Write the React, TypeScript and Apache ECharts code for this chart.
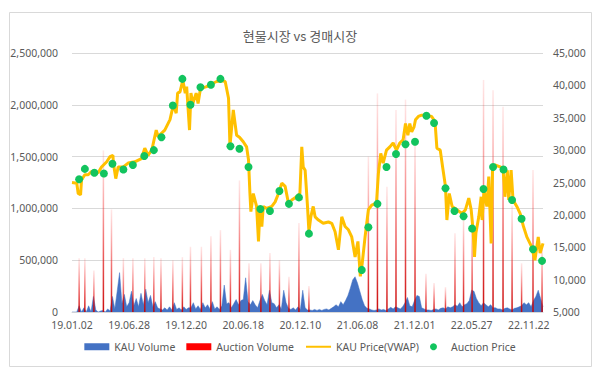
import React, { useEffect, useRef } from 'react';
import * as echarts from 'echarts';

// x positions are trading-day indexes counted from 19.01.02
const tickLabels = ['19.01.02', '19.06.28', '19.12.20', '20.06.18', '20.12.10', '21.06.08', '21.12.01', '22.05.27', '22.11.22'];
const tickStep = 120;
const dayMax = 990;

// KAU daily volume, sampled every 5 trading days (thousands)
const kauVolumeStep = 5;
const kauVolumeK = [
  0, 0, 0, 60, 0, 40, 0, 60, 0, 150,
  20, 0, 10, 15, 0, 30, 10, 150, 30, 200,
  380, 80, 170, 50, 90, 200, 60, 130, 50, 180,
  70, 220, 90, 160, 50, 100, 40, 30, 20, 40,
  20, 50, 20, 90, 25, 40, 20, 50, 25, 40,
  40, 90, 30, 60, 25, 90, 40, 70, 30, 100,
  30, 50, 25, 60, 260, 80, 90, 40, 80, 120,
  70, 110, 120, 330, 100, 70, 110, 70, 40, 110,
  170, 110, 70, 210, 90, 80, 40, 70, 30, 210,
  90, 35, 25, 40, 20, 50, 25, 210, 40, 20,
  20, 15, 25, 15, 25, 15, 25, 30, 20, 35,
  50, 70, 50, 100, 70, 110, 160, 230, 310, 340,
  280, 200, 120, 60, 35, 30, 20, 15, 20, 30,
  20, 25, 15, 30, 45, 30, 50, 40, 30, 50,
  90, 140, 60, 50, 110, 160, 150, 40, 30, 20,
  20, 15, 25, 30, 20, 35, 40, 30, 50, 40,
  50, 70, 55, 90, 50, 70, 80, 110, 210, 200,
  130, 90, 60, 90, 70, 50, 70, 40, 40, 30,
  30, 20, 35, 40, 30, 20, 35, 40, 50, 60,
  90, 70, 90, 50, 110, 150, 210, 130, 50,
];

// Auction volume spikes (thousands)
const auctionVolumeDays = [
  15, 27, 46, 66, 83, 108, 128, 153, 172, 187,
  212, 232, 249, 272, 292, 312, 333, 352, 372, 397,
  416, 436, 456, 477, 498, 623, 642, 662, 681, 701,
  721, 744, 761, 785, 805, 823, 841, 865, 885, 906,
  925, 945, 969, 988,
];
const auctionVolumeK = [
  520, 520, 400, 1560, 990, 520, 520, 520, 530, 520,
  500, 530, 630, 630, 730, 790, 600, 1270, 470, 470,
  570, 500, 340, 860, 250, 1500, 2110, 1210, 1950, 2050,
  1660, 370, 280, 240, 760, 920, 890, 2240, 2140, 1980,
  1020, 470, 1370, 630,
];

// KAU price (VWAP)
const priceDays = [
  0, 10, 13, 18, 20, 27, 34, 41, 55, 62,
  73, 80, 86, 87, 92, 97, 108, 118, 132, 146,
  153, 160, 168, 177, 181, 195, 206, 213, 219, 222,
  227, 233, 238, 241, 247, 250, 254, 261, 265, 270,
  283, 290, 304, 315, 322, 329, 332, 339, 346, 352,
  360, 367, 371, 374, 376, 381, 388, 392, 395, 399,
  402, 409, 420, 427, 434, 441, 448, 455, 462, 472,
  479, 483, 486, 490, 495, 498, 502, 507, 511, 518,
  528, 539, 546, 553, 560, 567, 574, 581, 588, 595,
  601, 606, 610, 616, 623, 630, 640, 644, 649, 654,
  661, 668, 675, 682, 689, 696, 701, 706, 710, 714,
  719, 722, 728, 735, 744, 756, 763, 767, 774, 779,
  785, 788, 793, 799, 809, 820, 827, 834, 839, 843,
  846, 849, 855, 860, 862, 866, 872, 876, 881, 884,
  889, 900, 906, 910, 915, 918, 923, 927, 935, 942,
  949, 956, 966, 973, 980, 984, 990,
];
const prices = [
  25000, 24900, 23300, 23100, 25400, 26200, 26200, 26700, 26500, 27400,
  28200, 29000, 29200, 28000, 25600, 27400, 27400, 28000, 28200, 28700,
  30300, 29200, 30100, 33100, 32100, 33100, 34700, 37000, 35700, 38800,
  39000, 40800, 38800, 39800, 33100, 38800, 37200, 38800, 37200, 39500,
  39800, 40100, 40600, 40700, 40600, 38000, 30600, 36200, 32300, 32000,
  31300, 30500, 28500, 23300, 20500, 23300, 21300, 15900, 20800, 18200,
  21300, 21000, 21300, 22000, 23300, 24900, 24400, 21800, 22300, 22800,
  23300, 30500, 27400, 26900, 21300, 17400, 19700, 21300, 19700, 19200,
  18700, 18900, 18700, 17400, 14600, 19700, 18200, 17700, 16600, 13500,
  15900, 10500, 12500, 16600, 20800, 21500, 21800, 26400, 29500, 28000,
  30000, 30500, 31100, 30000, 31100, 31600, 34100, 32300, 34100, 32800,
  33600, 34700, 35200, 35400, 35400, 35200, 34400, 30300, 30000, 27400,
  24400, 19200, 23300, 21300, 20800, 20200, 20800, 22600, 20800, 17700,
  13500, 17200, 19700, 22800, 19200, 23800, 21300, 25900, 15600, 27400,
  27700, 27400, 27200, 22800, 26900, 22300, 26900, 22300, 21300, 20200,
  18200, 16600, 15100, 13000, 16600, 14100, 15600,
];

// Auction clearing prices
const auctionPriceDays = [
  15, 27, 47, 67, 85, 108, 128, 152, 172, 188,
  212, 232, 249, 270, 292, 312, 333, 352, 371, 396,
  416, 436, 456, 477, 498, 609, 623, 642, 661, 681,
  701, 721, 745, 761, 785, 804, 823, 841, 865, 885,
  907, 925, 945, 969, 988,
];
const auctionPrices = [
  25500, 27100, 26500, 26400, 27900, 27000, 27700, 29100, 30000, 32000,
  36900, 41000, 37000, 39700, 40100, 41000, 30600, 30200, 27400, 20900,
  20600, 23700, 21700, 22700, 17100, 11500, 18100, 21700, 27400, 29400,
  30900, 31300, 35300, 34200, 24100, 20600, 19800, 17900, 24000, 27400,
  27000, 22300, 19400, 14700, 12900,
];

const FONT = '"Noto Sans", "Noto Sans CJK KR", sans-serif';
const TXT = '#595959';

export default function App() {
  const ref = useRef<HTMLDivElement>(null);
  useEffect(() => {
    if (!ref.current) return;
    const chart = echarts.init(ref.current, undefined, { renderer: 'svg' });
    const fmt = (v: number) => v.toLocaleString('en-US');
    chart.setOption({
      animation: false,
      backgroundColor: '#ffffff',
      textStyle: { fontFamily: FONT },
      title: {
        text: '현물시장 vs 경매시장',
        left: 'center',
        top: 24,
        textStyle: { fontFamily: '"Noto Sans CJK KR", sans-serif', fontSize: 13, fontWeight: 'normal', color: TXT },
      },
      graphic: [
        {
          type: 'rect',
          shape: { x: 9.5, y: 12.5, width: 582, height: 354 },
          style: { fill: 'none', stroke: '#d9d9d9', lineWidth: 1 },
          silent: true,
          z: -1,
        },
      ],
      legend: {
        bottom: 14,
        left: 'center',
        itemWidth: 25,
        itemHeight: 7,
        itemGap: 11,
        textStyle: { fontSize: 10.5, color: TXT, fontFamily: FONT },
        data: [
          { name: 'KAU Volume', icon: 'rect' },
          { name: 'Auction Volume', icon: 'rect', itemStyle: { color: '#FF0000' } },
          { name: 'KAU Price(VWAP)', itemStyle: { opacity: 0 } },
          { name: 'Auction Price', icon: 'circle' },
        ],
      },
      grid: { left: 72, right: 57, top: 53, bottom: 59, containLabel: false },
      xAxis: {
        type: 'value',
        min: 0,
        max: dayMax,
        interval: tickStep,
        splitLine: { show: false },
        axisTick: { show: false },
        axisLine: { show: true, lineStyle: { color: '#d9d9d9' } },
        axisLabel: {
          color: TXT,
          fontSize: 10.5,
          margin: 8,
          showMaxLabel: false,
          formatter: (v: number) => (v % tickStep === 0 ? tickLabels[v / tickStep] ?? '' : ''),
        },
      },
      yAxis: [
        {
          type: 'value',
          min: 0,
          max: 2500000,
          interval: 500000,
          axisLine: { show: false },
          axisTick: { show: false },
          splitLine: { lineStyle: { color: '#d9d9d9' } },
          axisLabel: { color: TXT, fontSize: 10.5, margin: 14, formatter: fmt },
        },
        {
          type: 'value',
          min: 5000,
          max: 45000,
          interval: 5000,
          position: 'right',
          axisLine: { show: false },
          axisTick: { show: false },
          splitLine: { show: false },
          axisLabel: { color: TXT, fontSize: 10.5, margin: 10, formatter: fmt },
        },
      ],
      series: [
        {
          name: 'KAU Volume',
          type: 'line',
          yAxisIndex: 0,
          symbol: 'none',
          data: kauVolumeK.map((v, i) => [i * kauVolumeStep, v * 1000]),
          lineStyle: { width: 0.5, color: '#4472C4' },
          itemStyle: { color: '#4472C4' },
          areaStyle: { color: '#4472C4', opacity: 1 },
          z: 1,
        },
        {
          name: 'Auction Volume',
          type: 'bar',
          yAxisIndex: 0,
          barWidth: 1.5,
          data: auctionVolumeDays.map((d, i) => [d, auctionVolumeK[i] * 1000]),
          itemStyle: {
            color: new echarts.graphic.LinearGradient(0, 0, 0, 1, [
              { offset: 0, color: 'rgba(255,60,60,0.12)' },
              { offset: 0.6, color: 'rgba(230,20,20,0.65)' },
              { offset: 1, color: 'rgba(200,0,0,0.95)' },
            ]),
          },
          z: 2,
        },
        {
          name: 'KAU Price(VWAP)',
          type: 'line',
          yAxisIndex: 1,
          symbol: 'none',
          data: priceDays.map((d, i) => [d, prices[i]]),
          lineStyle: { width: 3, color: '#FFC000' },
          itemStyle: { color: '#FFC000' },
          z: 3,
        },
        {
          name: 'Auction Price',
          type: 'scatter',
          yAxisIndex: 1,
          symbol: 'circle',
          symbolSize: 8,
          data: auctionPriceDays.map((d, i) => [d, auctionPrices[i]]),
          itemStyle: { color: '#12C45E', opacity: 1 },
          z: 4,
        },
      ],
    });
    return () => chart.dispose();
  }, []);
  return <div ref={ref} style={{ position: 'fixed', left: 0, top: 0, width: 600, height: 371 }} />;
}
